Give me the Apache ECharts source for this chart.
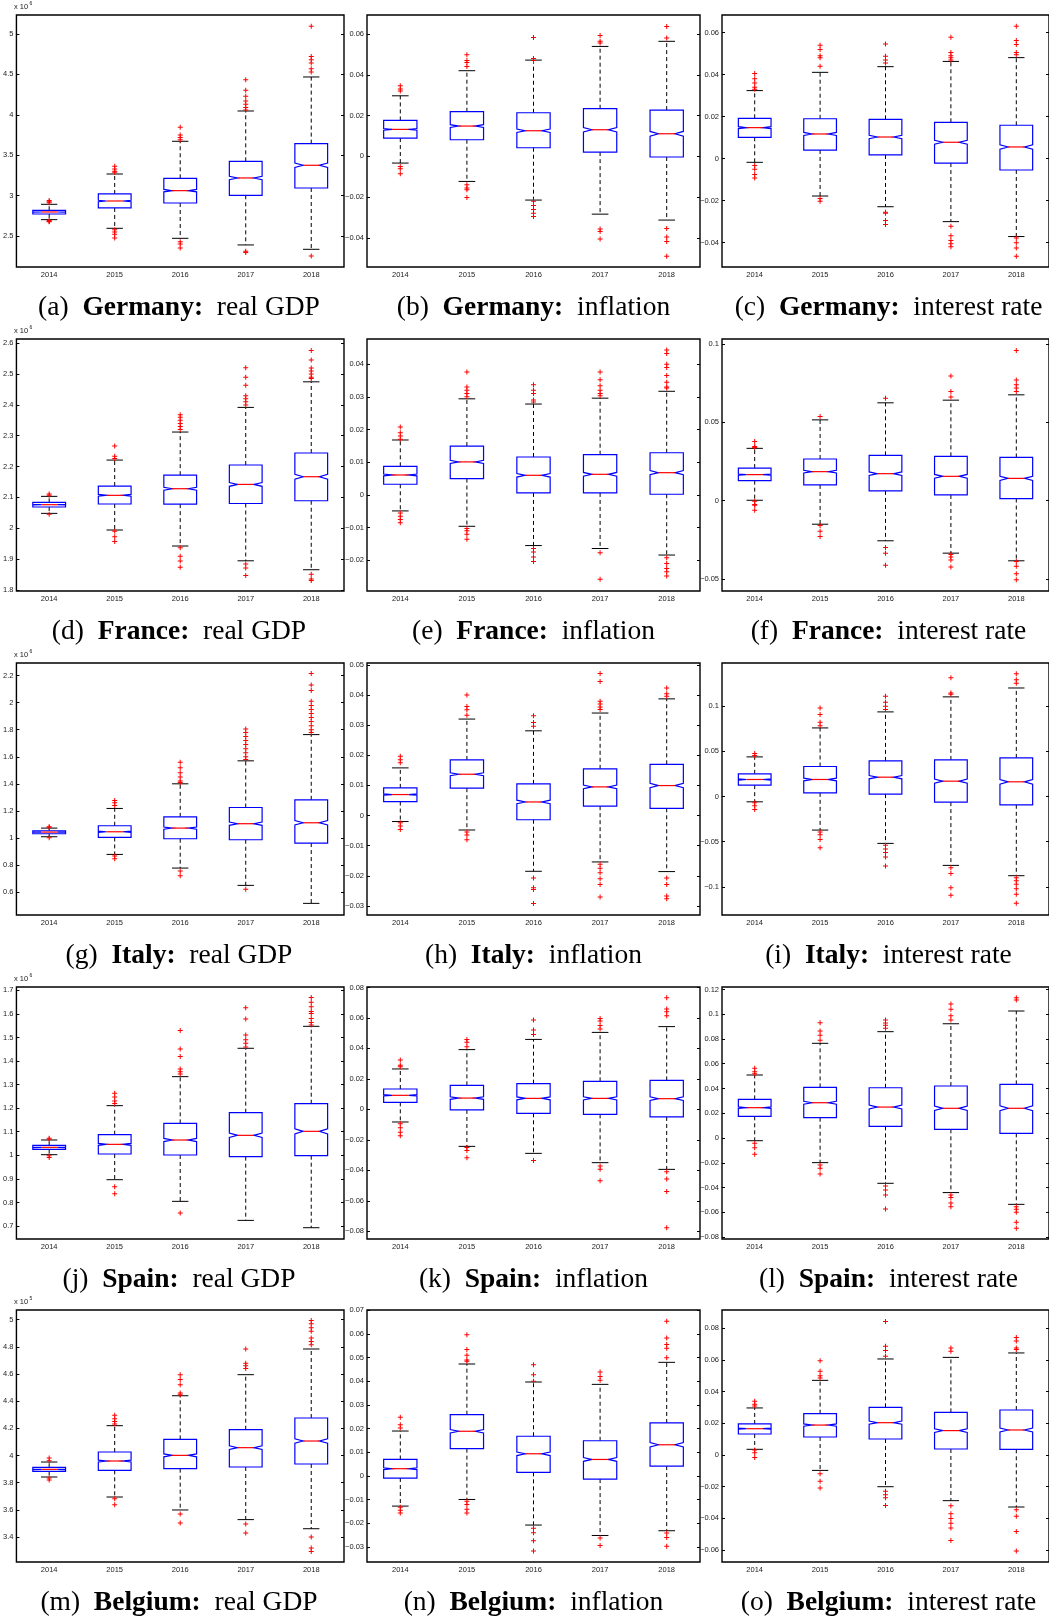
<!DOCTYPE html>
<html><head><meta charset="utf-8">
<script src="https://cdn.jsdelivr.net/npm/echarts@6/dist/echarts.min.js"></script>
<style>html,body{margin:0;padding:0;background:#fff}#c{width:1049px;height:1619px}</style>
</head><body><div id="c"></div><script>
const years = ['2014','2015','2016','2017','2018'];
// box stats per year: [lower whisker, Q1, median, Q3, upper whisker]
// (a) Germany real GDP (x10^6)
const deGdpBox = [[2.702,2.772,2.797,2.818,2.892],[2.595,2.847,2.933,3.020,3.267],[2.471,2.908,3.061,3.214,3.672],[2.389,3.003,3.218,3.424,4.047],[2.335,3.094,3.375,3.643,4.468]];
const deGdpOut = [[2.91,2.925,2.94,2.69,2.68,2.675],[3.362,3.33,3.30,3.29,2.578,2.55,2.52,2.475],[3.845,3.75,3.72,3.69,2.43,2.40,2.35],[4.435,4.303,4.23,4.17,4.13,4.09,4.06,2.31,2.295],[5.095,4.72,4.68,4.64,4.57,4.53,2.252]];
const deGdpTicks = [2.5,3,3.5,4,4.5,5];
const deGdpRange = [2.116,5.235];
// (b) Germany inflation
const deInfBox = [[-0.00327,0.00899,0.01324,0.01765,0.0297],[-0.01226,0.00817,0.01487,0.0219,0.042],[-0.0214,0.00425,0.01258,0.0214,0.0472],[-0.0283,0.0021,0.01307,0.02337,0.0539],[-0.0312,-0.0003,0.0111,0.0227,0.0564]];
const deInfOut = [[0.0346,0.033,0.032,-0.005,-0.006,-0.0085],[0.0498,0.047,0.046,0.044,-0.0139,-0.0155,-0.0163,-0.0201],[0.0583,0.048,0.047,-0.022,-0.024,-0.026,-0.0278,-0.0294],[0.0592,0.0564,0.0556,-0.0356,-0.0368,-0.0405],[0.0637,0.058,-0.0353,-0.0395,-0.0417,-0.0489]];
const deInfTicks = [-0.04,-0.02,0,0.02,0.04,0.06];
const deInfRange = [-0.0542,0.0693];
// (c) Germany interest rate
const deIntBox = [[-0.00175,0.01016,0.01476,0.0192,0.0324],[-0.0178,0.0041,0.01175,0.019,0.0411],[-0.0229,0.00175,0.0103,0.01873,0.0438],[-0.030,-0.0021,0.0078,0.0173,0.0463],[-0.0371,-0.0054,0.00556,0.0159,0.0481]];
const deIntOut = [[0.0405,0.038,0.036,0.034,0.033,-0.0033,-0.005,-0.0075,-0.0092],[0.054,0.052,0.049,0.048,0.044,-0.019,-0.0203],[0.0546,0.0487,0.047,0.0455,-0.0255,-0.026,-0.0294,-0.0314],[0.0578,0.0506,0.049,0.048,0.047,-0.0322,-0.0367,-0.039,-0.0405,-0.042],[0.063,0.0563,0.0543,0.0506,0.0495,-0.0378,-0.040,-0.0425,-0.0465]];
const deIntTicks = [-0.04,-0.02,0,0.02,0.04,0.06];
const deIntRange = [-0.0516,0.0684];
// (d) France real GDP (x10^6)
const frGdpBox = [[2.048,2.0687,2.0762,2.0838,2.1032],[1.994,2.0784,2.1065,2.1367,2.221],[1.942,2.078,2.128,2.172,2.312],[1.894,2.080,2.142,2.205,2.392],[1.865,2.089,2.167,2.244,2.475]];
const frGdpOut = [[2.111,2.107,2.045],[2.267,2.233,2.226,1.99,1.972,1.957],[2.368,2.36,2.35,2.34,2.33,2.32,1.936,1.909,1.893,1.873],[2.521,2.49,2.464,2.43,2.42,2.41,2.40,1.884,1.871,1.846],[2.577,2.546,2.52,2.51,2.5,2.49,2.486,1.85,1.835,1.83]];
const frGdpTicks = [1.8,1.9,2,2.1,2.2,2.3,2.4,2.5,2.6];
const frGdpRange = [1.796,2.614];
// (e) France inflation
const frInfBox = [[-0.0049,0.00326,0.0061,0.00875,0.0168],[-0.0096,0.005,0.0101,0.01495,0.0294],[-0.0155,0.0006,0.006,0.0116,0.0278],[-0.0164,0.0006,0.0063,0.0123,0.0296],[-0.0184,0.0002,0.0068,0.0129,0.0317]];
const frInfOut = [[0.0208,0.019,0.018,0.017,-0.0055,-0.0065,-0.0075,-0.0085],[0.0376,0.033,0.032,0.031,0.030,-0.0103,-0.011,-0.012,-0.0136],[0.0337,0.032,0.031,0.029,0.0284,-0.0164,-0.0175,-0.019,-0.0204],[0.0376,0.0352,0.0334,0.032,0.031,0.0303,-0.0177,-0.0258],[0.0443,0.0433,0.040,0.039,0.0365,0.0345,0.033,0.0327,-0.0192,-0.021,-0.0225,-0.0235,-0.0248]];
const frInfTicks = [-0.02,-0.01,0,0.01,0.02,0.03,0.04];
const frInfRange = [-0.0294,0.0477];
// (f) France interest rate
const frIntBox = [[0.0002,0.01275,0.0166,0.0208,0.0334],[-0.0151,0.010,0.0185,0.0266,0.0516],[-0.0257,0.0062,0.0172,0.0289,0.0625],[-0.0336,0.0036,0.0155,0.0283,0.0642],[-0.0385,0.0013,0.0142,0.0276,0.0676]];
const frIntOut = [[0.0378,0.0345,0.034,-0.0004,-0.0025,-0.003,-0.0062],[0.0538,-0.016,-0.0196,-0.023],[0.0654,-0.030,-0.0336,-0.0414],[0.0797,0.0697,0.0663,-0.0344,-0.036,-0.038,-0.0425],[0.096,0.0771,0.074,0.072,0.0697,-0.039,-0.042,-0.0468,-0.0506]];
const frIntTicks = [-0.05,0,0.05,0.1];
const frIntRange = [-0.0578,0.1033];
// (g) Italy real GDP (x10^6)
const itGdpBox = [[1.0086,1.0308,1.0431,1.0529,1.0726],[0.878,1.0037,1.0455,1.0899,1.218],[0.777,0.994,1.0727,1.156,1.40],[0.649,0.9865,1.105,1.225,1.570],[0.516,0.962,1.112,1.282,1.764]];
const itGdpOut = [[1.082,1.078,1.001],[1.277,1.26,1.24,0.866,0.846],[1.56,1.518,1.481,1.45,1.42,1.41,0.755,0.72],[1.806,1.78,1.75,1.72,1.69,1.66,1.63,1.60,1.58,0.620],[2.215,2.13,2.09,2.01,1.98,1.95,1.92,1.89,1.86,1.83,1.80,1.78]];
const itGdpTicks = [0.6,0.8,1,1.2,1.4,1.6,1.8,2,2.2];
const itGdpRange = [0.430,2.2935];
// (h) Italy inflation
const itInfBox = [[-0.002,0.00464,0.00696,0.00917,0.0158],[-0.0048,0.00906,0.0137,0.01845,0.032],[-0.0185,-0.0014,0.0045,0.0105,0.0281],[-0.0154,0.0031,0.0095,0.0155,0.034],[-0.0186,0.0024,0.00994,0.017,0.0387]];
const itInfOut = [[0.0197,0.0185,0.0175,-0.0024,-0.0035,-0.0046],[0.040,0.0362,0.0351,0.0333,-0.0055,-0.0065,-0.008],[0.0331,0.0309,0.0296,-0.0207,-0.024,-0.0245,-0.0292],[0.0471,0.0445,0.0379,0.037,0.036,0.0352,-0.0162,-0.0175,-0.019,-0.021,-0.0229,-0.027],[0.0423,0.0404,0.0396,-0.0207,-0.0229,-0.0267,-0.0276]];
const itInfTicks = [-0.03,-0.02,-0.01,0,0.01,0.02,0.03,0.04,0.05];
const itInfRange = [-0.033,0.0506];
// (i) Italy interest rate
const itIntBox = [[-0.0059,0.0125,0.01875,0.025,0.0437],[-0.0371,0.004,0.01875,0.0331,0.0757],[-0.0518,0.0026,0.0213,0.0393,0.0934],[-0.0761,-0.0062,0.0169,0.0404,0.110],[-0.0875,-0.0092,0.0162,0.0426,0.1198]];
const itIntOut = [[0.0474,0.0452,-0.007,-0.0103,-0.0143],[0.0978,0.0904,0.082,0.078,-0.0393,-0.0423,-0.0474,-0.0566],[0.1107,0.104,0.0996,0.096,-0.054,-0.058,-0.062,-0.0668,-0.0768],[0.131,0.1143,0.113,-0.0787,-0.085,-0.1007,-0.1092],[0.1356,0.129,0.125,-0.0897,-0.093,-0.097,-0.102,-0.108,-0.118]];
const itIntTicks = [-0.1,-0.05,0,0.05,0.1];
const itIntRange = [-0.1309,0.1474];
// (j) Spain real GDP (x10^6)
const esGdpBox = [[1.0027,1.0253,1.0338,1.0423,1.065],[0.8966,1.0055,1.0465,1.0876,1.2106],[0.8047,1.0013,1.0649,1.1356,1.3337],[0.724,0.9942,1.0847,1.1809,1.454],[0.6929,0.9984,1.1017,1.219,1.5472]];
const esGdpOut = [[1.072,1.068,0.998,0.991],[1.263,1.247,1.23,1.22,0.867,0.837],[1.529,1.451,1.419,1.366,1.355,1.345,0.755],[1.626,1.578,1.51,1.49,1.475,1.46],[1.669,1.649,1.63,1.61,1.602,1.58,1.563,1.553]];
const esGdpTicks = [0.7,0.8,0.9,1,1.1,1.2,1.3,1.4,1.5,1.6,1.7];
const esGdpRange = [0.645,1.714];
// (k) Spain inflation
const esInfBox = [[-0.0083,0.0046,0.0092,0.01335,0.0265],[-0.0243,-0.0004,0.0074,0.01575,0.0392],[-0.0289,-0.0026,0.0072,0.01685,0.0459],[-0.035,-0.0033,0.0072,0.0184,0.0505],[-0.0394,-0.005,0.007,0.019,0.0543]];
const esInfOut = [[0.0324,0.029,0.028,-0.0094,-0.012,-0.0151,-0.0173],[0.0459,0.044,0.0411,-0.025,-0.027,-0.0317],[0.0586,0.052,0.0492,-0.0335],[0.0597,0.058,0.055,0.0527,-0.0372,-0.0394,-0.0468],[0.0733,0.0659,0.064,0.0615,-0.041,-0.0457,-0.054,-0.0777]];
const esInfTicks = [-0.08,-0.06,-0.04,-0.02,0,0.02,0.04,0.06,0.08];
const esInfRange = [-0.0851,0.0803];
// (l) Spain interest rate
const esIntBox = [[-0.0022,0.0175,0.0245,0.0312,0.0509],[-0.0199,0.0164,0.0285,0.0409,0.0765],[-0.0366,0.0094,0.025,0.0406,0.0859],[-0.0441,0.007,0.024,0.042,0.0923],[-0.0536,0.0038,0.024,0.0433,0.1026]];
const esIntOut = [[0.0563,0.0536,0.052,-0.0043,-0.0078,-0.0132],[0.0931,0.0864,0.083,0.079,-0.0218,-0.0245,-0.029],[0.0953,0.093,0.091,0.0886,-0.0388,-0.042,-0.046,-0.0573],[0.1082,0.104,0.0988,0.0953,-0.046,-0.048,-0.0525,-0.0555],[0.1133,0.1115,-0.0555,-0.0575,-0.06,-0.0681,-0.073]];
const esIntTicks = [-0.08,-0.06,-0.04,-0.02,0,0.02,0.04,0.06,0.08,0.1,0.12];
const esIntRange = [-0.0816,0.122];
// (m) Belgium real GDP (x10^5)
const beGdpBox = [[3.8417,3.8834,3.898,3.9129,3.952],[3.6945,3.8908,3.9595,4.0258,4.2196],[3.599,3.903,4.001,4.119,4.44],[3.528,3.9153,4.0577,4.19,4.595],[3.461,3.9374,4.1067,4.276,4.784]];
const beGdpOut = [[3.982,3.962,3.834,3.82],[4.296,4.27,4.25,4.232,3.682,3.638],[4.595,4.56,4.52,4.46,4.448,3.569,3.503],[4.784,4.68,4.66,4.64,3.496,3.43],[4.993,4.97,4.94,4.915,4.865,4.84,4.816,3.40,3.319,3.294]];
const beGdpTicks = [3.4,3.6,3.8,4,4.2,4.4,4.6,4.8,5];
const beGdpRange = [3.216,5.0712];
// (n) Belgium inflation
const beInfBox = [[-0.0127,-0.00085,0.0031,0.007,0.019],[-0.0099,0.01155,0.0189,0.0259,0.0473],[-0.0207,0.00155,0.0094,0.0168,0.0397],[-0.0251,-0.0013,0.007,0.0149,0.0387],[-0.0231,0.0042,0.0132,0.0224,0.048]];
const beInfOut = [[0.0248,0.0217,0.0203,-0.0132,-0.0144,-0.0156],[0.0597,0.0534,0.051,0.049,0.0485,-0.0107,-0.012,-0.014,-0.0156],[0.047,0.0428,0.040,-0.022,-0.024,-0.0273,-0.0317],[0.0439,0.042,0.0404,-0.0262,-0.0293],[0.0654,0.0583,0.0555,0.054,0.0499,-0.0241,-0.026,-0.0297]];
const beInfTicks = [-0.03,-0.02,-0.01,0,0.01,0.02,0.03,0.04,0.05,0.06,0.07];
const beInfRange = [-0.0363,0.0701];
// (o) Belgium interest rate
const beIntBox = [[0.0036,0.01325,0.0166,0.0196,0.0297],[-0.0097,0.01136,0.0189,0.0261,0.0471],[-0.020,0.0101,0.0204,0.0301,0.0606],[-0.0288,0.0038,0.0154,0.0269,0.0616],[-0.0328,0.0036,0.0158,0.0284,0.0644]];
const beIntOut = [[0.0339,0.032,0.031,0.0032,0.0015,-0.0015],[0.0595,0.0528,0.050,0.0486,-0.0118,-0.0166,-0.0208],[0.0843,0.0686,0.066,0.0623,-0.0229,-0.025,-0.027,-0.0318],[0.0675,0.0654,-0.032,-0.037,-0.040,-0.043,-0.046,-0.054],[0.0742,0.072,0.0675,0.0665,-0.0345,-0.0387,-0.0482,-0.0606]];
const beIntTicks = [-0.06,-0.04,-0.02,0,0.02,0.04,0.06,0.08];
const beIntRange = [-0.0675,0.0915];

const countries = ['Germany:','France:','Italy:','Spain:','Belgium:'];
const variables = ['real GDP','inflation','interest rate'];
const letters = 'abcdefghijklmno';
const gdpExponents = ['6','6','6','6','5'];

const panels = [
  [deGdpBox,deGdpOut,deGdpTicks,deGdpRange],[deInfBox,deInfOut,deInfTicks,deInfRange],[deIntBox,deIntOut,deIntTicks,deIntRange],
  [frGdpBox,frGdpOut,frGdpTicks,frGdpRange],[frInfBox,frInfOut,frInfTicks,frInfRange],[frIntBox,frIntOut,frIntTicks,frIntRange],
  [itGdpBox,itGdpOut,itGdpTicks,itGdpRange],[itInfBox,itInfOut,itInfTicks,itInfRange],[itIntBox,itIntOut,itIntTicks,itIntRange],
  [esGdpBox,esGdpOut,esGdpTicks,esGdpRange],[esInfBox,esInfOut,esInfTicks,esInfRange],[esIntBox,esIntOut,esIntTicks,esIntRange],
  [beGdpBox,beGdpOut,beGdpTicks,beGdpRange],[beInfBox,beInfOut,beInfTicks,beInfRange],[beIntBox,beIntOut,beIntTicks,beIntRange]
];

// layout
const colLeft = [14, 367, 722];
const colWidth = [330, 333, 333];
const rowTop = [15, 339, 663, 987, 1310];
const plotH = 252;
const tickFont = 'Liberation Sans';
const capFont = 'Liberation Serif';
const fmt = v => String(v).replace('-', '\u2212');
const plusPath = 'path://M4,0H6V4H10V6H6V10H4V6H0V4H4Z';

function renderBox(params, api) {
  const x = api.value(0);
  const lo = api.value(1), q1 = api.value(2), md = api.value(3), q3 = api.value(4), hi = api.value(5);
  const pm = api.coord([x, md]);
  const cx = pm[0], ym = pm[1];
  const w = api.size([1, 0])[0] * 0.5;
  const L = cx - w / 2, R = cx + w / 2, ins = w / 4;
  const yq1 = api.coord([x, q1])[1], yq3 = api.coord([x, q3])[1];
  const ylo = api.coord([x, lo])[1], yhi = api.coord([x, hi])[1];
  const notch = 1.57 * (q3 - q1) / Math.sqrt(1000);
  const yn1 = api.coord([x, md + notch])[1], yn0 = api.coord([x, md - notch])[1];
  const dash = {stroke: '#000', lineWidth: 1, lineDash: [4, 3], fill: null};
  const solid = {stroke: '#000', lineWidth: 1, fill: null};
  return {type: 'group', children: [
    {type: 'line', shape: {x1: cx, y1: yq3, x2: cx, y2: yhi}, style: dash},
    {type: 'line', shape: {x1: cx, y1: yq1, x2: cx, y2: ylo}, style: dash},
    {type: 'line', shape: {x1: cx - w / 4, y1: yhi, x2: cx + w / 4, y2: yhi}, style: solid},
    {type: 'line', shape: {x1: cx - w / 4, y1: ylo, x2: cx + w / 4, y2: ylo}, style: solid},
    {type: 'polygon', shape: {points: [[L, yq3], [R, yq3], [R, yn1], [R - ins, ym], [R, yn0], [R, yq1], [L, yq1], [L, yn0], [L + ins, ym], [L, yn1]]},
      style: {fill: null, stroke: '#0000ff', lineWidth: 1.2}},
    {type: 'line', shape: {x1: L + ins, y1: ym, x2: R - ins, y2: ym}, style: {stroke: '#ff0000', lineWidth: 1.2}}
  ]};
}

const grid = [], xAxis = [], yAxis = [], series = [], graphic = [];
panels.forEach((p, g) => {
  const [box, out, ticks, range] = p;
  const r = Math.floor(g / 3), c = g % 3;
  const left = colLeft[c], top = rowTop[r], width = colWidth[c];
  grid.push({left: left, top: top, width: width, height: plotH, show: true, borderColor: '#000', borderWidth: 1.4, backgroundColor: 'transparent'});
  xAxis.push({gridIndex: g, type: 'category', data: years, axisLine: {show: false}, axisTick: {show: false},
    axisLabel: {fontSize: 7.5, color: '#222', fontFamily: tickFont, margin: 4}, splitLine: {show: false}});
  const yBase = {gridIndex: g, type: 'value', min: range[0], max: range[1], splitLine: {show: false}, axisLine: {show: false},
    axisTick: {show: true, inside: true, length: 3, lineStyle: {color: '#000', width: 1}, customValues: ticks}};
  yAxis.push(Object.assign({}, yBase, {position: 'left',
    axisLabel: {show: true, fontSize: 7.5, color: '#222', fontFamily: tickFont, margin: 3, customValues: ticks, formatter: fmt}}));
  yAxis.push(Object.assign({}, yBase, {position: 'right', axisLabel: {show: false}}));
  series.push({type: 'custom', xAxisIndex: g, yAxisIndex: 2 * g, renderItem: renderBox, clip: false,
    encode: {x: 0, y: [1, 2, 3, 4, 5]}, data: box.map((b, i) => [i].concat(b)), silent: true});
  series.push({type: 'scatter', xAxisIndex: g, yAxisIndex: 2 * g, symbol: plusPath, symbolSize: 5, silent: true,
    itemStyle: {color: '#ff0000', opacity: 1}, z: 5,
    data: out.flatMap((arr, i) => arr.map(v => [i, v]))});
  // caption
  graphic.push({type: 'text', x: left + width / 2, y: top + plotH + 41, style: {
    text: '{n|(' + letters[g] + ')\u2002}{b|' + countries[r] + '}{n|\u2002' + variables[c] + '}',
    align: 'center', verticalAlign: 'middle', fontFamily: capFont, fontSize: 27.5,
    rich: {n: {fontFamily: capFont, fontSize: 27.5, fill: '#000'},
           b: {fontFamily: capFont, fontSize: 27.5, fontWeight: 'bold', fill: '#000'}}}});
  if (c === 0) {
    graphic.push({type: 'text', x: left, y: top - 8, style: {text: 'x 10', fontSize: 7.5, fontFamily: tickFont, fill: '#222', align: 'left', verticalAlign: 'middle'}});
    graphic.push({type: 'text', x: left + 15.5, y: top - 11.5, style: {text: gdpExponents[r], fontSize: 5, fontFamily: tickFont, fill: '#222', align: 'left', verticalAlign: 'middle'}});
  }
});

const chart = echarts.init(document.getElementById('c'), null, {renderer: 'canvas'});
chart.setOption({animation: false, backgroundColor: '#fff', grid, xAxis, yAxis, series, graphic});
</script></body></html>
